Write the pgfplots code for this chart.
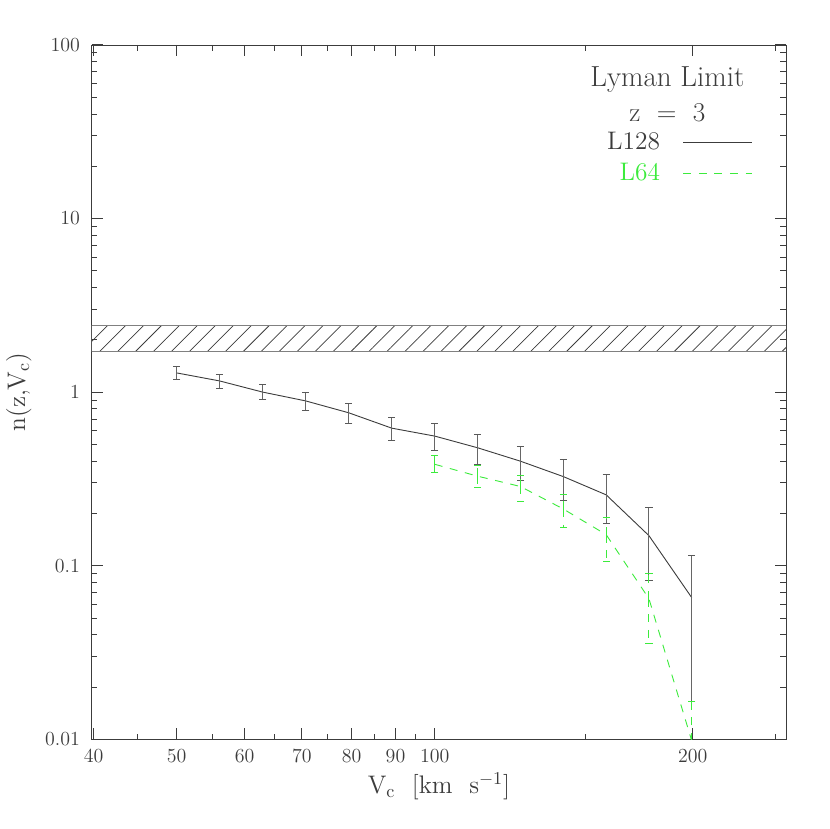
\documentclass[border=0pt]{standalone}
\usepackage{pgfplots}
\pgfplotsset{compat=1.18}
\usetikzlibrary{patterns.meta}
\definecolor{lgreen}{RGB}{60,235,60}
\definecolor{ink}{RGB}{60,60,60}
\begin{document}
\begin{tikzpicture}
  \begin{axis}[
      name=ax,
      scale only axis,
      width=382.8pt, height=382.8pt,
      xmode=log, ymode=log,
      xmin=39.8, xmax=257,
      ymin=0.01, ymax=100,
      xtick={40,50,60,70,80,90,100,200},
      xticklabels={40,50,60,70,80,90,100,200},
      minor xtick={45,55,65,75,85,95,150,250},
      ytick={0.01,0.1,1,10,100},
      yticklabels={0.01,0.1,1,10,100},
      minor ytick={0.02,0.03,0.04,0.05,0.06,0.07,0.08,0.09,
                   0.2,0.3,0.4,0.5,0.6,0.7,0.8,0.9,
                   2,3,4,5,6,7,8,9,20,30,40,50,60,70,80,90},
      tick align=inside,
      major tick length=6.4pt,
      minor tick length=3.2pt,
      axis line style={ink},
      every tick/.style={ink, line width=0.5pt},
      tick label style={font=\fontsize{11}{13}\selectfont, text=ink},
      yticklabel style={xshift=-3pt},
      xticklabel style={yshift=-2pt},
      every axis y label/.style={at={(axis description cs:-0.105,0.5)}, rotate=90, anchor=center},
      every axis x label/.style={at={(axis description cs:0.5,-0.068)}, anchor=center},
      label style={font=\fontsize{14}{16}\selectfont, text=ink},
      xlabel={V$_{\mathrm{c}}$\ \ [km\ \ s$^{-1}$]},
      ylabel={n(z,V$_{\mathrm{c}}$)},
      legend plot pos=right,
      legend cell align=right,
      legend image code/.code={\draw[#1] (0pt,0pt) -- (38pt,0pt);},
      legend style={draw=none, fill=none, at={(axis description cs:0.96,0.885)},
                    anchor=north east, font=\fontsize{14}{16}\selectfont,
                    row sep=2pt, column sep=10.5pt},
    ]

    % observed band
    \addplot[forget plot, draw=gray, line width=0.6pt,
      pattern={Lines[angle=45, distance=7pt, line width=0.4pt]}, pattern color=ink]
      coordinates {(39.8,1.72) (257,1.72) (257,2.43) (39.8,2.43)} -- cycle;

    \addplot[ink, line width=0.5pt, mark=none,
      error bars/.cd, y dir=both, y explicit,
      error mark options={rotate=90, mark size=2pt, black!65},
      error bar style={black!60, line width=0.6pt}]
      coordinates {
        (50,1.29)    += (0,0.11)   -= (0,0.10)
        (56.1,1.16)  += (0,0.10)   -= (0,0.11)
        (63.0,1.00)  += (0,0.11)   -= (0,0.09)
        (70.7,0.89)  += (0,0.11)   -= (0,0.10)
        (79.4,0.76)  += (0,0.105)  -= (0,0.10)
        (89.1,0.62)  += (0,0.10)   -= (0,0.095)
        (100,0.558)  += (0,0.10)   -= (0,0.096)
        (112.2,0.478) += (0,0.096) -= (0,0.096)
        (125.9,0.400) += (0,0.088) -= (0,0.089)
        (141.3,0.326) += (0,0.086) -= (0,0.087)
        (158.5,0.256) += (0,0.079) -= (0,0.081)
        (177.8,0.149) += (0,0.067) -= (0,0.067)
        (199.5,0.0655) += (0,0.0485) -= (0,0.049)
      };
    \addlegendentry[text=ink]{L128}

    \addplot[lgreen, line width=0.5pt, mark=none, dash pattern=on 4.4pt off 4.2pt,
      error bars/.cd, y dir=both, y explicit,
      error mark options={rotate=90, mark size=2pt, solid, lgreen},
      error bar style={lgreen, line width=0.6pt}]
      coordinates {
        (100,0.384)   += (0,0.046) -= (0,0.038)
        (112.2,0.328) += (0,0.053) -= (0,0.047)
        (125.9,0.286) += (0,0.045) -= (0,0.052)
        (141.3,0.212) += (0,0.045) -= (0,0.045)
        (158.5,0.151) += (0,0.039) -= (0,0.045)
        (177.8,0.0646) += (0,0.026) -= (0,0.029)
        (199.5,0.0098) += (0,0.0067) -= (0,0.005)
      };
    \addlegendentry[text=lgreen]{L64}

    \node[font=\fontsize{16}{18}\selectfont, text=ink] at (axis description cs:0.829,0.95) {Lyman Limit};
    \node[font=\fontsize{15}{17}\selectfont, text=ink] at (axis description cs:0.829,0.902) {z~~=~~3};
  \end{axis}
  \path ([shift={(-49.5pt,-49pt)}]ax.south west) rectangle ([shift={(24.2pt,24.75pt)}]ax.north east);
\end{tikzpicture}
\end{document}
